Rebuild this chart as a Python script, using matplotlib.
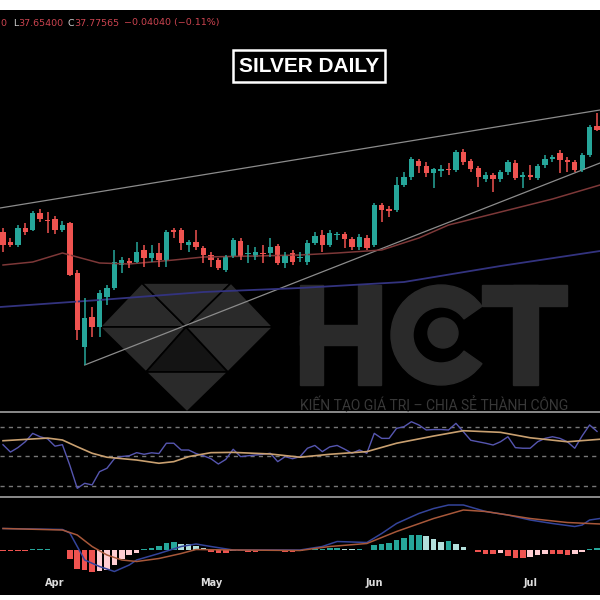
import numpy as np
import matplotlib.pyplot as plt
import matplotlib.transforms as mtransforms
from matplotlib.patches import Polygon, Rectangle, Wedge, Circle

# ---- daily candles ----
opens = [33.61, 33.21, 33.09, 33.77, 33.69, 34.37, 34.09, 34.13, 33.69, 33.97,
         31.97, 29.01, 30.21, 29.81, 31.01, 31.37, 32.29, 32.45, 32.41, 32.89,
         32.57, 32.77, 32.49, 33.69, 33.69, 33.09, 33.21, 32.97, 32.69, 32.49,
         32.09, 32.61, 33.25, 32.73, 32.61, 32.77, 32.77, 33.05, 32.37, 32.77,
         32.57, 32.41, 33.17, 33.49, 33.09, 33.49, 33.53, 33.33, 33.01, 33.37,
         33.09, 34.69, 34.53, 34.49, 35.49, 35.81, 36.45, 36.25, 35.97, 36.07,
         36.11, 36.09, 36.81, 36.45, 36.17, 35.73, 35.89, 35.73, 36.01, 36.37,
         35.81, 35.89, 35.77, 36.29, 36.53, 36.77, 36.49, 36.41, 36.09, 36.69,
         37.84]
highs = [33.77, 33.37, 33.89, 33.97, 34.45, 34.53, 34.41, 34.25, 34.05, 34.01,
         32.09, 30.97, 30.61, 31.29, 31.49, 32.89, 32.61, 32.57, 33.21, 33.09,
         33.09, 33.17, 33.69, 33.77, 33.77, 33.29, 33.69, 33.05, 32.81, 32.57,
         32.69, 33.37, 33.37, 33.09, 33.01, 33.09, 33.37, 33.13, 32.81, 32.89,
         32.81, 33.29, 33.61, 33.69, 33.69, 33.61, 33.61, 33.41, 33.53, 33.49,
         34.77, 34.77, 34.65, 35.81, 36.01, 36.61, 36.53, 36.41, 36.17, 36.29,
         36.37, 36.89, 36.93, 36.53, 36.25, 36.01, 35.97, 36.09, 36.49, 36.49,
         36.01, 36.29, 36.33, 36.69, 36.69, 36.89, 36.61, 36.49, 36.77, 37.89,
         38.37]
lows = [32.81, 33.01, 33.01, 33.49, 33.65, 34.01, 33.57, 33.53, 33.61, 31.85,
        29.29, 28.29, 29.41, 29.41, 30.69, 31.29, 31.97, 32.17, 32.37, 32.21,
        32.41, 32.21, 32.21, 33.37, 32.89, 32.81, 32.89, 32.37, 32.21, 32.09,
        32.01, 32.57, 32.49, 32.37, 32.49, 32.37, 32.61, 32.29, 32.17, 32.29,
        32.41, 32.29, 33.09, 32.81, 33.01, 33.29, 32.97, 32.89, 32.89, 32.89,
        33.01, 34.01, 34.21, 34.41, 35.41, 35.69, 35.97, 35.81, 35.37, 35.81,
        35.89, 36.01, 36.29, 36.01, 35.41, 35.61, 35.21, 35.61, 35.89, 35.69,
        35.37, 35.69, 35.69, 36.17, 36.41, 35.97, 36.01, 36.01, 36.01, 36.61,
        37.65]
closes = [33.09, 33.09, 33.77, 33.61, 34.37, 34.13, 34.05, 33.69, 33.89, 31.89,
          29.69, 30.17, 29.81, 31.17, 31.37, 32.41, 32.49, 32.37, 32.81, 32.57,
          32.77, 32.49, 33.61, 33.61, 33.17, 33.21, 33.01, 32.69, 32.49, 32.17,
          32.61, 33.29, 32.61, 32.77, 32.81, 32.73, 33.01, 32.37, 32.69, 32.41,
          32.61, 33.17, 33.45, 33.09, 33.57, 33.53, 33.33, 33.01, 33.41, 32.97,
          34.69, 34.49, 34.45, 35.49, 35.81, 36.53, 36.25, 35.97, 36.13, 36.11,
          36.09, 36.81, 36.41, 36.13, 35.81, 35.89, 35.73, 36.01, 36.41, 35.77,
          35.89, 35.81, 36.25, 36.53, 36.61, 36.49, 36.41, 36.09, 36.69, 37.81,
          37.70]

month_labels = ['Apr', 'May', 'Jun', 'Jul']
month_starts = [7, 28, 50, 71]

# moving averages, read at a few candles
ma_fast_idx = [0, 4, 8, 10, 13, 17, 23, 27, 34, 40, 45, 51, 56, 60, 67, 74, 80.4]
ma_fast = [32.29, 32.41, 32.77, 32.61, 32.37, 32.33, 32.49, 32.61, 32.65, 32.69,
           32.77, 32.89, 33.37, 33.89, 34.41, 34.93, 35.49]
ma_slow_idx = [-0.4, 13, 27, 40, 54, 67, 80.4]
ma_slow = [30.61, 30.89, 31.21, 31.37, 31.61, 32.25, 32.85]

# trend lines (two anchors each)
upper_idx = [-0.4, 80.4]
upper_px = [34.57, 38.49]
lower_idx = [11, 80.4]
lower_px = [28.29, 36.37]

# RSI
rsi = [58, 53, 56, 60, 65.7, 63.4, 62, 57, 58, 44,
       28.4, 31.8, 30.7, 39.7, 42, 48.5, 50, 50.5, 52.6, 51.5,
       52.5, 52, 59, 59, 54.4, 54.4, 52, 50.5, 48.5, 44.9,
       48, 54.9, 49.9, 50.5, 51, 51.5, 52.2, 46.5, 49.9, 48.5,
       49.9, 55.6, 57.5, 53.3, 56.5, 57.5, 55, 52.2, 54.4, 52.2,
       65.7, 62.3, 62.3, 69.1, 70.2, 73.6, 71.4, 68, 68.3, 68.3,
       68, 72.5, 66.8, 61, 60, 59, 57.8, 60, 63.4, 56,
       55.6, 55.6, 60, 62.3, 63.4, 62.3, 60, 55.6, 64, 71.4,
       67]
rsi_ma_idx = [0, 6, 8, 10, 12, 14, 18, 21, 23, 25, 28, 31, 36, 40, 44, 49, 53,
              58, 62, 67, 71, 76, 80.4]
rsi_ma = [60.7, 62.5, 61.2, 56.6, 52.2, 49.5, 47.6, 45.4, 46.5, 49.9, 52.6, 52.8,
          51.7, 49.5, 51.5, 53.3, 59, 63.9, 67.5, 66.4, 62.7, 60, 61.7]

# MACD
macd_idx = [0, 8, 9, 10, 11, 13, 15, 17, 18, 21, 24, 26, 28, 31, 35, 40, 43, 45,
            49, 51, 53, 56, 58, 60, 62, 65, 68, 71, 74, 77, 78, 79, 80.4]
macd_line = [0.43, 0.41, 0.34, 0.07, -0.2, -0.33, -0.43, -0.3, -0.2, -0.07, 0.07,
             0.12, 0.07, 0.0, 0.0, 0.0, 0.07, 0.17, 0.15, 0.33, 0.53, 0.73, 0.83,
             0.9, 0.9, 0.77, 0.7, 0.6, 0.53, 0.47, 0.5, 0.6, 0.63]
signal_idx = [0, 8, 10, 12, 14, 16, 18, 21, 24, 26, 31, 40, 44, 49, 53, 58, 62,
              65, 71, 76, 80.4]
signal_line = [0.43, 0.4, 0.3, 0.07, -0.1, -0.2, -0.23, -0.17, -0.07, 0.01, 0.0,
               -0.01, 0.07, 0.13, 0.37, 0.63, 0.8, 0.77, 0.63, 0.55, 0.52]
hist = [-0.02, -0.02, -0.02, -0.02, 0.02, 0.02, 0.02, 0.01, 0.01, -0.17,
        -0.37, -0.40, -0.43, -0.42, -0.40, -0.30, -0.17, -0.10, -0.05, 0.03,
        0.05, 0.08, 0.15, 0.17, 0.13, 0.12, 0.09, 0.05, -0.03, -0.05,
        -0.05, -0.01, -0.02, -0.03, -0.03, -0.02, -0.01, -0.02, -0.03, -0.03,
        -0.02, 0.01, 0.02, 0.03, 0.04, 0.045, 0.03, 0.02, 0.02, 0.01,
        0.10, 0.12, 0.15, 0.20, 0.25, 0.30, 0.31, 0.28, 0.23, 0.17,
        0.18, 0.12, 0.06, 0.01, -0.03, -0.07, -0.075, -0.05, -0.12, -0.15,
        -0.155, -0.13, -0.10, -0.07, -0.07, -0.08, -0.10, -0.08, -0.03, 0.03,
        0.05]

UP = '#26a69a'
DOWN = '#ef5350'

fig = plt.figure(figsize=(6, 6), dpi=100, facecolor='white')

# black background in pixel coordinates, carries the watermark
bg = fig.add_axes([0, 5 / 600, 1, 585 / 600])
bg.set_facecolor('black')
bg.set_xlim(0, 600)
bg.set_ylim(595, 10)
bg.set_xticks([])
bg.set_yticks([])
for s in bg.spines.values():
    s.set_visible(False)

# --- HCT watermark ---
wm = '#2a2a2a'
TL, TR, L, R, C, B = (142, 283), (231, 283), (100, 327), (273, 327), (186, 327), (187, 412)
P1, P2 = (146, 372), (228, 372)
faces = [([TL, L, C], wm), ([TL, TR, C], wm), ([TR, R, C], wm),
         ([L, C, P1], wm), ([C, P1, P2], '#141414'), ([C, R, P2], wm),
         ([P1, P2, B], wm)]
for pts, col in faces:
    bg.add_patch(Polygon(pts, closed=True, facecolor=col, edgecolor='black', lw=1.2))
bg.add_patch(Rectangle((300, 285), 23, 100, color=wm))
bg.add_patch(Rectangle((358, 285), 23, 100, color=wm))
bg.add_patch(Rectangle((300, 325), 80, 20, color=wm))
bg.add_patch(Wedge((441, 335), 50, 35, 325, width=22, color=wm))
bg.add_patch(Circle((443, 333), 15, color=wm))
bg.add_patch(Rectangle((482, 285), 85, 21, color=wm))
bg.add_patch(Rectangle((513, 285), 25, 100, color=wm))
bg.text(300, 405, 'KIẾN TẠO GIÁ TRỊ – CHIA SẺ THÀNH CÔNG', color='#383838',
        fontsize=10, family='Roboto', ha='left', va='center')

# panel separators
bg.axhline(412, color='#8a8a8a', lw=1.4)
bg.axhline(497, color='#8a8a8a', lw=1.4)

xlim = (-0.404, 80.40)
x = np.arange(len(closes))

ax = fig.add_axes([0, 190 / 600, 1, 400 / 600])
ax_rsi = fig.add_axes([0, 103 / 600, 1, 85 / 600])
ax_macd = fig.add_axes([0, 5 / 600, 1, 98 / 600])
for a in (ax, ax_rsi, ax_macd):
    a.set_facecolor('none')
    a.set_xlim(*xlim)
    a.set_xticks([])
    a.set_yticks([])
    for s in a.spines.values():
        s.set_visible(False)

# --- price panel ---
ax.set_ylim(26.49, 42.49)
ax.plot(upper_idx, upper_px, color='#8c8c8c', lw=0.9)
ax.plot(lower_idx, lower_px, color='#8c8c8c', lw=0.9)
ax.plot(ma_fast_idx, ma_fast, color='#7d3838', lw=1.1)
ax.plot(ma_slow_idx, ma_slow, color='#33337f', lw=1.3)
o, h, l, c = map(np.array, (opens, highs, lows, closes))
cols = np.where(c >= o, UP, DOWN)
ax.vlines(x, l, h, colors=cols, lw=1.1)
ax.bar(x, np.maximum(np.abs(c - o), 0.05), bottom=np.minimum(o, c),
       width=0.72, color=cols)

# --- RSI panel ---
ax_rsi.set_ylim(22.5, 80.2)
for lvl in (70, 50, 30):
    ax_rsi.axhline(lvl, color='#777777', lw=1, ls=(0, (3, 3)))
ax_rsi.plot(x, rsi, color='#5656b0', lw=1)
ax_rsi.plot(rsi_ma_idx, rsi_ma, color='#c9a070', lw=1.2)

# --- MACD panel ---
ax_macd.set_ylim(-0.9, 1.06)
hcols = []
prev = 0
for v in hist:
    if v >= 0:
        hcols.append('#26a69a' if v >= prev else '#b2dfdb')
    else:
        hcols.append('#ef5350' if v <= prev else '#ffcdd2')
    prev = v
ax_macd.bar(x, hist, width=0.75, color=hcols)
ax_macd.plot(macd_idx, macd_line, color='#34449a', lw=1.1)
ax_macd.plot(signal_idx, signal_line, color='#a8583a', lw=1.1)
trans = mtransforms.blended_transform_factory(ax_macd.transData, ax_macd.transAxes)
for pos, lab in zip(month_starts, month_labels):
    ax_macd.text(pos, 0.12, lab, transform=trans, color='#dddddd', fontsize=7,
                 fontweight='bold', ha='center', va='center')

# --- header & title ---
hy = 1 - 23 / 600
red = '#cc4450'
hfs = 6.8
fig.text(0 / 600, hy, '0', color=red, fontsize=hfs, va='center')
fig.text(13 / 600, hy, 'L', color='#d0d0d0', fontsize=hfs, va='center')
fig.text(18 / 600, hy, '37.65400', color=red, fontsize=hfs, va='center')
fig.text(68 / 600, hy, 'C', color='#d0d0d0', fontsize=hfs, va='center')
fig.text(74 / 600, hy, '37.77565', color=red, fontsize=hfs, va='center')
fig.text(124 / 600, hy, '\u22120.04040 (\u22120.11%)', color=red, fontsize=hfs, va='center')

fig.text(309 / 600, 1 - 66 / 600, 'SILVER DAILY', color='white', fontsize=15,
         fontweight='bold', family='Liberation Sans', ha='center', va='center',
         bbox=dict(boxstyle='square,pad=0.3', facecolor='black', edgecolor='white', lw=1.8))

fig.savefig('out.png', dpi=100, facecolor='white')
